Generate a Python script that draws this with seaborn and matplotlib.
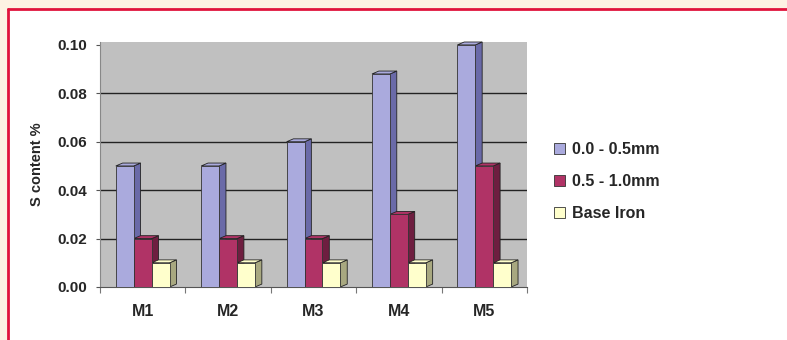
import matplotlib
matplotlib.use("Agg")
import matplotlib.pyplot as plt
import seaborn as sns
import pandas as pd
from matplotlib.patches import Polygon, Rectangle

categories = ["M1", "M2", "M3", "M4", "M5"]
series_names = ["0.0 - 0.5mm", "0.5 - 1.0mm", "Base Iron"]
s_fine = [0.05, 0.05, 0.06, 0.088, 0.10]
s_mid = [0.02, 0.02, 0.02, 0.03, 0.05]
s_base = [0.01, 0.01, 0.01, 0.01, 0.01]
y_ticks = [0.00, 0.02, 0.04, 0.06, 0.08, 0.10]
colors = ["#aaaadd", "#b03366", "#ffffcc"]
side_colors = ["#6a6aa8", "#6e1e40", "#a8a880"]

df = pd.DataFrame({
    "cat": categories * 3,
    "val": s_fine + s_mid + s_base,
    "series": [series_names[0]] * 5 + [series_names[1]] * 5 + [series_names[2]] * 5,
})

sns.set_style("white")
plt.rcParams["font.family"] = ["Liberation Sans", "DejaVu Sans"]
plt.rcParams["font.weight"] = "bold"

fig = plt.figure(figsize=(7.87, 3.40), dpi=100)
fig.patch.set_facecolor("white")
# page decoration: cream strip and red border lines
fig.patches.append(Rectangle((0, 1 - 9 / 340), 1, 9 / 340, transform=fig.transFigure,
                             facecolor="#fdf3e3", edgecolor="none", zorder=0))
fig.patches.append(Rectangle((0, 0), 8 / 787, 1, transform=fig.transFigure,
                             facecolor="#fdf3e3", edgecolor="none", zorder=0))
fig.lines.append(plt.Line2D([8 / 787, 1], [1 - 9 / 340, 1 - 9 / 340], transform=fig.transFigure,
                            color="#e0143c", lw=2))
fig.lines.append(plt.Line2D([8 / 787, 8 / 787], [0, 1 - 9 / 340], transform=fig.transFigure,
                            color="#e0143c", lw=2))

ax = fig.add_axes([100 / 787, 1 - 287 / 340, 427 / 787, 245 / 340])
ax.set_facecolor("#c0c0c0")

sns.barplot(data=df, x="cat", y="val", hue="series", palette=colors, width=0.63,
            gap=0, ax=ax, edgecolor="#333333", linewidth=0.6, saturation=1,
            legend=True, zorder=3)

ax.set_ylim(0, 0.1012)
ax.set_xlim(-0.5, 4.5)
ax.set_yticks(y_ticks)
ax.set_yticklabels([f"{t:.2f}" for t in y_ticks], fontsize=11, fontweight="bold")
ax.set_xticks(range(len(categories)))
ax.set_xticklabels(categories, fontsize=11.5, fontweight="bold")
ax.set_xticks([i + 0.5 for i in range(-1, len(categories))], minor=True)
ax.tick_params(axis="x", which="major", length=0, pad=12)
ax.tick_params(axis="x", which="minor", length=4, width=0.8, color="#777777", bottom=True)
ax.tick_params(axis="y", length=3, width=0.8, color="#555555", left=True, pad=6)
ax.set_xlabel("")
ax.set_ylabel("S content %", fontsize=10.5, fontweight="bold", labelpad=10)
for y in y_ticks[1:-1]:
    ax.axhline(y, color="#222222", lw=1.0, zorder=0.5)
for side in ["top", "right"]:
    ax.spines[side].set_visible(False)
ax.spines["left"].set_color("#888888")
ax.spines["bottom"].set_color("#555555")

# 3D-style depth on each bar, derived from the bar geometry
dx, dy = 0.08, 0.0012
for i, container in enumerate(ax.containers):
    for bar in container:
        x0, w, h = bar.get_x(), bar.get_width(), bar.get_height()
        side = Polygon([(x0 + w, 0), (x0 + w + dx, dy), (x0 + w + dx, h + dy), (x0 + w, h)],
                       closed=True, facecolor=side_colors[i], edgecolor="#222222", lw=0.6,
                       zorder=2, clip_on=False)
        top = Polygon([(x0, h), (x0 + dx, h + dy), (x0 + w + dx, h + dy), (x0 + w, h)],
                      closed=True, facecolor=colors[i], edgecolor="#222222", lw=0.6,
                      zorder=2.5, clip_on=False)
        ax.add_patch(side)
        ax.add_patch(top)

leg = ax.legend(loc="center left", bbox_to_anchor=(1.045, 0.43), frameon=False,
                fontsize=11.5, handlelength=0.7, handleheight=0.7, handletextpad=0.4,
                labelspacing=1.05, borderpad=0)
for t in leg.get_texts():
    t.set_fontweight("bold")

fig.savefig("out.png", dpi=100, facecolor=fig.get_facecolor())
